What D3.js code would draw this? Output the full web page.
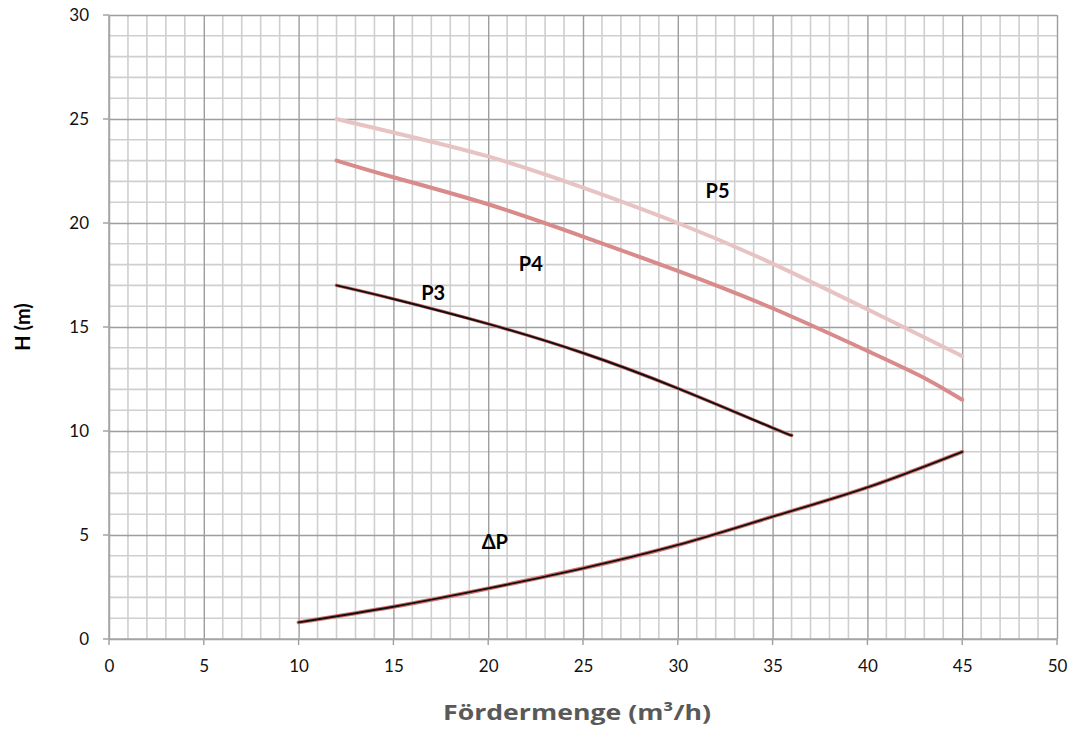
<!DOCTYPE html>
<html>
<head>
<meta charset="utf-8">
<script src="https://cdn.jsdelivr.net/npm/d3@7"></script>
<style>
  body { margin: 0; background: #fff; }
  text { font-family: Lato, "Open Sans", sans-serif; }
</style>
</head>
<body>
<div id="chart"></div>
<script>
var width = 1073,
    height = 730;

// data
var xTicks = [0, 5, 10, 15, 20, 25, 30, 35, 40, 45, 50];
var yTicks = [0, 5, 10, 15, 20, 25, 30];

var p5Flow = [12, 15, 20, 25, 30, 35, 40, 45];
var p5Head = [25.0, 24.35, 23.2, 21.7, 20.0, 18.05, 15.85, 13.6];

var p4Flow = [12, 15, 20, 25, 30, 35, 40, 43, 45];
var p4Head = [23.0, 22.2, 20.9, 19.35, 17.7, 15.9, 13.85, 12.55, 11.5];

var p3Flow = [12, 15, 20, 25, 30, 35, 36];
var p3Head = [17.0, 16.35, 15.15, 13.75, 12.05, 10.15, 9.8];

var dpFlow = [10, 15, 20, 25, 30, 35, 40, 45];
var dpHead = [0.8, 1.55, 2.43, 3.4, 4.52, 5.88, 7.29, 9.0];

var labelNames = ["P5", "P4", "P3", "ΔP"];
var labelFlow = [32.1, 22.25, 17.1, 20.35];
var labelHead = [21.6, 18.1, 16.7, 4.7];

var margin = {top: 15, right: 16, bottom: 91, left: 109};

var svg = d3.select("#chart").append("svg")
    .attr("width", width)
    .attr("height", height);

var x = d3.scaleLinear().domain([0, 50]).range([margin.left, width - margin.right]);
var y = d3.scaleLinear().domain([0, 30]).range([height - margin.bottom, margin.top]);

// minor grid
var minorX = d3.range(0, 51, 1).filter(function(d){ return d % 5 != 0; });
var minorY = d3.range(0, 31, 1).filter(function(d){ return d % 5 != 0; });

svg.append("g").selectAll("line")
    .data(minorX)
    .enter().append("line")
    .attr("x1", function(d){ return x(d); })
    .attr("x2", function(d){ return x(d); })
    .attr("y1", y(0))
    .attr("y2", y(30))
    .style("stroke", "#cfcfcf")
    .style("stroke-width", 1.6);

svg.append("g").selectAll("line")
    .data(minorY)
    .enter().append("line")
    .attr("y1", function(d){ return y(d); })
    .attr("y2", function(d){ return y(d); })
    .attr("x1", x(0))
    .attr("x2", x(50))
    .style("stroke", "#cfcfcf")
    .style("stroke-width", 1.6);

// major grid + axes
var xAxis = svg.append("g")
    .attr("transform", "translate(0," + y(0) + ")")
    .call(d3.axisBottom(x).tickValues(xTicks).tickSize(-(y(0) - y(30))).tickSizeOuter(0).tickPadding(21));

var yAxis = svg.append("g")
    .attr("transform", "translate(" + x(0) + ",0)")
    .call(d3.axisLeft(y).tickValues(yTicks).tickSize(-(x(50) - x(0))).tickSizeOuter(0).tickPadding(20));

[xAxis, yAxis].forEach(function(ax){
    ax.select(".domain").remove();
    ax.selectAll(".tick line")
        .style("stroke", "#9d9d9d")
        .style("stroke-width", 1.4);
    ax.selectAll(".tick text")
        .style("font-size", "17px")
        .style("fill", "#111");
});

// small tick marks outside
svg.append("g").selectAll("line")
    .data(xTicks)
    .enter().append("line")
    .attr("x1", function(d){ return x(d); })
    .attr("x2", function(d){ return x(d); })
    .attr("y1", y(0))
    .attr("y2", y(0) + 6)
    .style("stroke", "#9d9d9d")
    .style("stroke-width", 1.4);

svg.append("g").selectAll("line")
    .data(yTicks)
    .enter().append("line")
    .attr("y1", function(d){ return y(d); })
    .attr("y2", function(d){ return y(d); })
    .attr("x1", x(0) - 6)
    .attr("x2", x(0))
    .style("stroke", "#9d9d9d")
    .style("stroke-width", 1.4);

// axis lines
svg.append("line")
    .attr("x1", x(0)).attr("x2", x(50))
    .attr("y1", y(0)).attr("y2", y(0))
    .style("stroke", "#a8a8a8").style("stroke-width", 1.6);
svg.append("line")
    .attr("x1", x(0)).attr("x2", x(0))
    .attr("y1", y(0)).attr("y2", y(30))
    .style("stroke", "#a8a8a8").style("stroke-width", 1.6);

// curves
var line = d3.line()
    .x(function(d){ return x(d[0]); })
    .y(function(d){ return y(d[1]); })
    .curve(d3.curveNatural);

function pairs(a, b) {
    return a.map(function(v, i){ return [v, b[i]]; });
}

function drawCurve(pts, color, w) {
    svg.append("path")
        .datum(pts)
        .attr("d", line)
        .style("fill", "none")
        .style("stroke", color)
        .style("stroke-width", w)
        .style("stroke-linecap", "round");
}

drawCurve(pairs(p5Flow, p5Head), "#e8c3c3", 4);
drawCurve(pairs(p4Flow, p4Head), "#d98a8a", 4);
drawCurve(pairs(p3Flow, p3Head), "#d06a66", 3.5);
drawCurve(pairs(p3Flow, p3Head), "#111", 2);
drawCurve(pairs(dpFlow, dpHead), "#d46f6a", 4);
drawCurve(pairs(dpFlow, dpHead), "#111", 1.8);

// curve labels
svg.append("g").selectAll("text")
    .data(labelNames)
    .enter().append("text")
    .attr("x", function(d, i){ return x(labelFlow[i]); })
    .attr("y", function(d, i){ return y(labelHead[i]); })
    .attr("text-anchor", "middle")
    .attr("dominant-baseline", "central")
    .style("font-size", "20px")
    .style("font-weight", "bold")
    .style("fill", "#000")
    .text(function(d){ return d; });

// axis titles
svg.append("text")
    .attr("x", (x(0) + x(50)) / 2 - 6)
    .attr("y", 712)
    .attr("text-anchor", "middle")
    .attr("dominant-baseline", "central")
    .attr("textLength", 268)
    .attr("lengthAdjust", "spacingAndGlyphs")
    .style("font-family", "'Open Sans', sans-serif")
    .style("font-size", "21px")
    .style("font-weight", "bold")
    .style("fill", "#595959")
    .text("Fördermenge (m³/h)");

svg.append("text")
    .attr("transform", "translate(22," + y(15) + ") rotate(-90)")
    .attr("text-anchor", "middle")
    .attr("dominant-baseline", "central")
    .style("font-size", "20px")
    .style("font-weight", "bold")
    .style("fill", "#000")
    .text("H (m)");
</script>
</body>
</html>
